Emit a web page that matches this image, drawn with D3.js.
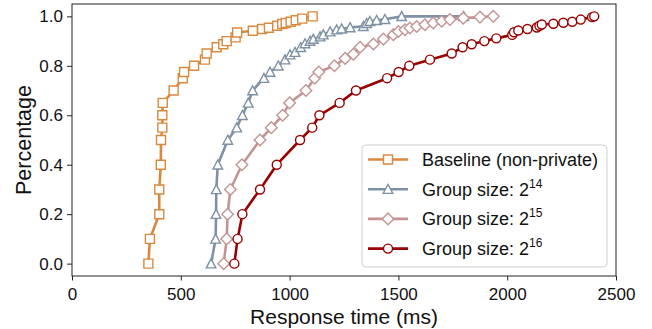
<!DOCTYPE html>
<html>
<head>
<meta charset="utf-8">
<script src="https://cdn.jsdelivr.net/npm/d3@7"></script>
<style>
  body { margin: 0; background: #fff; }
  svg { display: block; font-family: "Liberation Sans", Arial, sans-serif; }
</style>
</head>
<body>
<div id="chart"></div>
<script>
// values (response time in ms, cumulative fraction)
const baselineMs  = [351, 358, 401, 401, 408, 409, 415, 415, 417, 467, 509, 515, 561, 611, 619, 665, 695, 711, 752, 759, 831, 874, 905, 943, 966, 982, 1005, 1028, 1058, 1106];
const baselinePct = [0, 0.1, 0.2, 0.3, 0.4, 0.5, 0.55, 0.6, 0.65, 0.7, 0.75, 0.775, 0.8, 0.825, 0.85, 0.875, 0.8875, 0.9, 0.915, 0.935, 0.942, 0.949, 0.954, 0.962, 0.969, 0.973, 0.978, 0.984, 0.991, 1.0];

const g14Ms  = [639, 660, 662, 663, 670, 716, 757, 783, 810, 830, 882, 910, 948, 979, 1002, 1025, 1051, 1071, 1094, 1109, 1140, 1155, 1186, 1216, 1239, 1278, 1339, 1354, 1369, 1400, 1438, 1515, 1800];
const g14Pct = [0, 0.1, 0.2, 0.3, 0.4, 0.5, 0.55, 0.6, 0.65, 0.7, 0.75, 0.775, 0.8, 0.825, 0.845, 0.855, 0.875, 0.89, 0.9, 0.908, 0.918, 0.926, 0.938, 0.946, 0.95, 0.955, 0.96, 0.972, 0.98, 0.984, 0.988, 1.0, 1.0];

const g15Ms  = [697, 711, 715, 728, 781, 864, 916, 968, 1000, 1075, 1115, 1134, 1206, 1255, 1293, 1324, 1385, 1431, 1477, 1500, 1530, 1553, 1584, 1622, 1660, 1699, 1737, 1798, 1875, 1936];
const g15Pct = [0, 0.1, 0.2, 0.3, 0.4, 0.5, 0.55, 0.6, 0.65, 0.7, 0.75, 0.775, 0.8, 0.83, 0.847, 0.875, 0.888, 0.908, 0.926, 0.939, 0.946, 0.953, 0.959, 0.966, 0.973, 0.98, 0.987, 0.993, 0.997, 1.0];

const g16Ms  = [746, 761, 783, 864, 941, 1048, 1104, 1137, 1230, 1305, 1448, 1501, 1550, 1645, 1745, 1795, 1837, 1895, 1950, 2023, 2031, 2051, 2093, 2136, 2148, 2159, 2212, 2258, 2299, 2338, 2390, 2400];
const g16Pct = [0, 0.1, 0.2, 0.3, 0.4, 0.5, 0.55, 0.6, 0.65, 0.7, 0.75, 0.775, 0.8, 0.825, 0.85, 0.875, 0.887, 0.9, 0.911, 0.925, 0.936, 0.943, 0.949, 0.955, 0.962, 0.967, 0.97, 0.974, 0.978, 0.987, 0.997, 1.0];

const xTicks = [0, 500, 1000, 1500, 2000, 2500];
const yTicks = [0, 0.2, 0.4, 0.6, 0.8, 1.0];

const series = [
  {label: 'Baseline (non-private)', sup: null, color: '#d9893e', marker: 'square',   xs: baselineMs, ys: baselinePct},
  {label: 'Group size: 2', sup: '14',       color: '#7f91a4', marker: 'triangle', xs: g14Ms, ys: g14Pct},
  {label: 'Group size: 2', sup: '15',       color: '#c49494', marker: 'diamond',  xs: g15Ms, ys: g15Pct},
  {label: 'Group size: 2', sup: '16',       color: '#990000', marker: 'circle',   xs: g16Ms, ys: g16Pct},
];

const W = 652, H = 329;
const margin = {top: 4, right: 36, bottom: 53, left: 72};
const width = W - margin.left - margin.right;
const height = H - margin.top - margin.bottom;

const svg = d3.select('#chart')
  .append('svg')
  .attr('width', W)
  .attr('height', H);

const g = svg.append('g')
  .attr('transform', 'translate(' + margin.left + ',' + margin.top + ')');

const x = d3.scaleLinear().domain([0, 2500]).range([0, width]);
const y = d3.scaleLinear().domain([-0.05, 1.05]).range([height, 0]);

// marker shapes, roughly matplotlib's s, ^, D, o
function markerPath(kind) {
  switch (kind) {
    case 'square':   return 'M-4.5,-4.5H4.5V4.5H-4.5Z';
    case 'triangle': return 'M0,-4.8L4.8,4.2L-4.8,4.2Z';
    case 'diamond':  return 'M0,-5.8L5.8,0L0,5.8L-5.8,0Z';
    default:         return d3.symbol(d3.symbolCircle, 64)();
  }
}

for (const s of series) {
  const pts = s.xs.map((v, i) => [v, s.ys[i]]);
  const line = d3.line().x(d => x(d[0])).y(d => y(d[1]));

  g.append('path')
    .datum(pts)
    .attr('fill', 'none')
    .attr('stroke', s.color)
    .attr('stroke-width', 2.6)
    .attr('stroke-linejoin', 'round')
    .attr('d', line);

  g.append('g').selectAll('path')
    .data(pts)
    .join('path')
    .attr('transform', d => 'translate(' + x(d[0]) + ',' + y(d[1]) + ')')
    .attr('d', markerPath(s.marker))
    .attr('fill', '#fff')
    .attr('stroke', s.color)
    .attr('stroke-width', 1.4);
}

// frame
g.append('rect')
  .attr('width', width)
  .attr('height', height)
  .attr('fill', 'none')
  .attr('stroke', '#222')
  .attr('stroke-width', 1);

const xAxis = g.append('g')
  .attr('transform', 'translate(0,' + height + ')')
  .call(d3.axisBottom(x).tickValues(xTicks).tickSize(4.5).tickPadding(7).tickFormat(d3.format('d')));
const yAxis = g.append('g')
  .call(d3.axisLeft(y).tickValues(yTicks).tickSize(5).tickPadding(4).tickFormat(d3.format('.1f')));

for (const ax of [xAxis, yAxis]) {
  ax.select('.domain').remove();
  ax.selectAll('.tick line').attr('stroke', '#222');
  ax.selectAll('.tick text')
    .attr('fill', '#111')
    .style('font-size', '17px')
    .style('font-family', '"Liberation Sans", Arial, sans-serif');
}

g.append('text')
  .attr('x', width / 2)
  .attr('y', height + 47.5)
  .attr('text-anchor', 'middle')
  .attr('fill', '#111')
  .style('font-size', '21px')
  .text('Response time (ms)');

g.append('text')
  .attr('transform', 'translate(' + (-41) + ',' + (height / 2) + ') rotate(-90)')
  .attr('text-anchor', 'middle')
  .attr('fill', '#111')
  .style('font-size', '21.5px')
  .text('Percentage');

// legend
const legend = svg.append('g').attr('transform', 'translate(362,145)');
legend.append('rect')
  .attr('width', 245)
  .attr('height', 122)
  .attr('rx', 4)
  .attr('fill', '#fff')
  .attr('fill-opacity', 0.85)
  .attr('stroke', '#cfcfcf')
  .attr('stroke-width', 1);

series.forEach((s, i) => {
  const row = legend.append('g').attr('transform', 'translate(0,' + (14.5 + i * 29.7) + ')');
  row.append('line')
    .attr('x1', 6).attr('x2', 46)
    .attr('stroke', s.color)
    .attr('stroke-width', 2.6);
  row.append('path')
    .attr('transform', 'translate(26,0)')
    .attr('d', markerPath(s.marker))
    .attr('fill', '#fff')
    .attr('stroke', s.color)
    .attr('stroke-width', 1.4);
  const t = row.append('text')
    .attr('x', 60)
    .attr('y', 6.5)
    .attr('fill', '#111')
    .style('font-size', '18px')
    .text(s.label);
  if (s.sup) {
    t.append('tspan')
      .attr('dy', -8)
      .style('font-size', '12px')
      .text(s.sup);
  }
});
</script>
</body>
</html>
